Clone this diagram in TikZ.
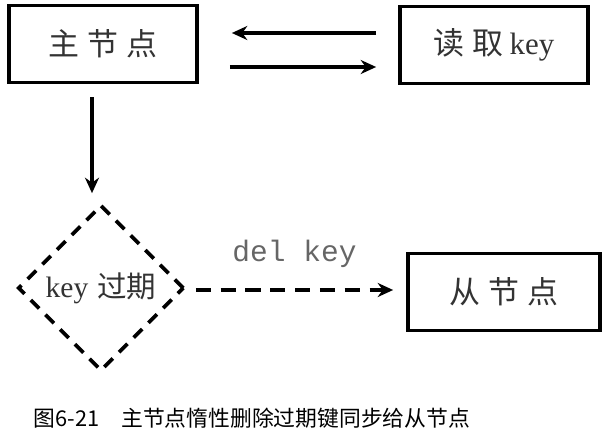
\documentclass[tikz,border=0pt]{standalone}
\usepackage{fontspec}
\setmainfont{Liberation Serif}
\setmonofont{Liberation Mono}
\newfontfamily\cjk{Noto Sans CJK SC}
\newfontfamily\cjkwide[LetterSpace=25]{Noto Sans CJK SC}
\usetikzlibrary{shapes.geometric, arrows.meta, positioning, calc}
\tikzset{
    base/.style = {
        draw=black, line width=2.6pt, text centered, inner sep=0pt,
        text=black!80, font=\fontsize{22}{26}\selectfont
    },
    % Components
    box/.style      = {base, rectangle, minimum width=4.7cm, minimum height=1.92cm},
    decision/.style = {base, diamond, dash pattern=on 0.3cm off 0.22cm,
                       minimum width=4.15cm, minimum height=4.15cm, font=\fontsize{21}{24}\selectfont},
    % Edges and annotations
    arrow/.style = {line width=2.2pt, -{Stealth[length=11pt,width=10pt]}},
    dashed_arrow/.style = {arrow, dash pattern=on 0.38cm off 0.24cm},
    annotation/.style = {font=\ttfamily\fontsize{21}{24}\selectfont, text=black!60, align=center},
    caption/.style = {font=\cjk\fontsize{15.5}{18}\selectfont, text=black}
}

\begin{document}
\begin{tikzpicture}[x=0.025cm, y=-0.025cm]
    \useasboundingbox (0,0) rectangle (605,440);

    \node (master) [box] at (103,44) {\cjkwide 主节点};
    \node (read) [box] at (494,45) {{\cjkwide 读取}\hspace{0.2em}key};
    \node (expire) [decision] at (101,288) {key\hspace{0.3em}{\cjk 过期}};
    \node (slave) [box, minimum width=4.8cm] at (504,292) {\cjkwide 从节点};

    \draw [arrow] ($(read.west)+(-22,-12)$) -- ($(master.east)+(33,-11)$);
    \draw [arrow] ($(master.east)+(31,23)$) -- ($(read.west)+(-22,22)$);
    \draw [arrow] ($(master.south)+(-11,13)$) -- ($(expire.north)+(-9,-10)$);
    \draw [dashed_arrow] ($(expire.east)+(10,2)$) -- node[annotation, above=0.4cm] {del key} ($(slave.west)+(-13,-2)$);

    \node (cap) [caption] at (252,418) {图6-21\quad 主节点惰性删除过期键同步给从节点};
\end{tikzpicture}
\end{document}
